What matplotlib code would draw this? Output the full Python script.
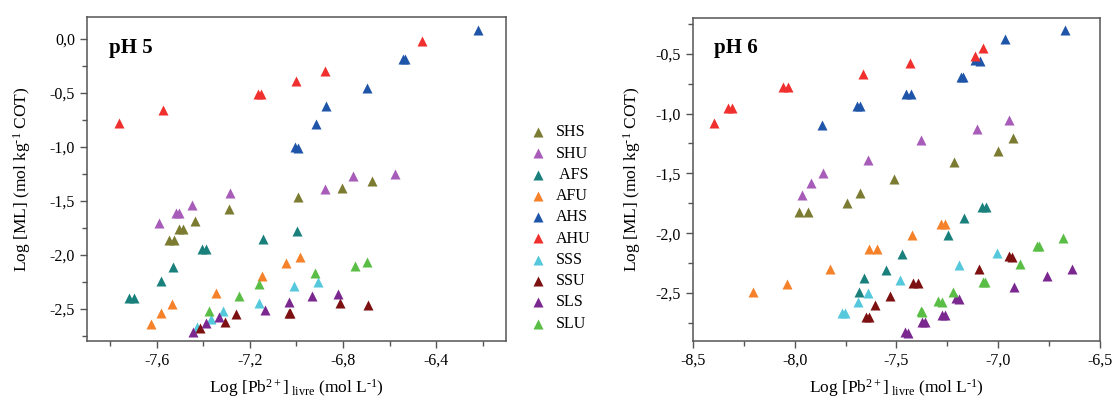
import matplotlib
matplotlib.use('Agg')
import matplotlib.pyplot as plt
from matplotlib.ticker import MultipleLocator, FuncFormatter

plt.rcParams['font.family'] = 'Liberation Serif'
plt.rcParams['mathtext.fontset'] = 'custom'
plt.rcParams['mathtext.rm'] = 'Liberation Serif'
plt.rcParams['mathtext.it'] = 'Liberation Serif:italic'
plt.rcParams['axes.unicode_minus'] = False

nomes = ['SHS', 'SHU', ' AFS', 'AFU', 'AHS', 'AHU', 'SSS', 'SSU', 'SLS', 'SLU']
cores = ['#7b7b32', '#a65cb8', '#1a807c', '#f5822a', '#1f55a8',
         '#f0302e', '#55c8dc', '#7d1010', '#7a2890', '#5abe46']

# pH 5 -- Log [Pb2+] livre (x) e Log [ML] (y)
shs5_x = [-6.674, -6.805, -6.994, -7.288, -7.437, -7.506, -7.487, -7.547, -7.527]
shs5_y = [-1.319, -1.386, -1.47, -1.581, -1.686, -1.766, -1.766, -1.865, -1.865]
shu5_x = [-6.578, -6.757, -6.878, -7.284, -7.451, -7.517, -7.503, -7.59]
shu5_y = [-1.254, -1.272, -1.393, -1.433, -1.538, -1.612, -1.612, -1.704]
afs5_x = [-6.998, -7.143, -7.405, -7.39, -7.53, -7.58, -7.718, -7.698]
afs5_y = [-1.778, -1.859, -1.951, -1.951, -2.118, -2.244, -2.399, -2.399]
afu5_x = [-6.985, -7.045, -7.149, -7.347, -7.536, -7.58, -7.626]
afu5_y = [-2.025, -2.075, -2.201, -2.359, -2.457, -2.541, -2.643]
ahs5_x = [-6.221, -6.544, -6.532, -6.697, -6.872, -6.918, -7.007, -6.992]
ahs5_y = [0.08, -0.189, -0.189, -0.46, -0.624, -0.791, -1.001, -1.01]
ahu5_x = [-7.764, -7.573, -7.167, -7.153, -7.004, -6.879, -6.462]
ahu5_y = [-0.779, -0.661, -0.513, -0.513, -0.396, -0.297, -0.025]
sss5_x = [-6.908, -7.01, -7.162, -7.316, -7.367, -7.428]
sss5_y = [-2.257, -2.291, -2.451, -2.522, -2.596, -2.673]
ssu5_x = [-6.693, -6.813, -7.031, -7.026, -7.262, -7.309, -7.414]
ssu5_y = [-2.47, -2.448, -2.538, -2.544, -2.553, -2.624, -2.68]
sls5_x = [-6.82, -6.935, -7.034, -7.137, -7.332, -7.388, -7.445]
sls5_y = [-2.365, -2.383, -2.442, -2.516, -2.575, -2.636, -2.719]
slu5_x = [-6.696, -6.75, -6.922, -7.16, -7.246, -7.374]
slu5_y = [-2.065, -2.109, -2.173, -2.275, -2.38, -2.525]

# pH 6
shs6_x = [-6.925, -7.0, -7.219, -7.511, -7.681, -7.742, -7.979, -7.936]
shs6_y = [-1.206, -1.314, -1.406, -1.55, -1.664, -1.747, -1.822, -1.822]
shu6_x = [-6.948, -7.106, -7.379, -7.641, -7.859, -7.922, -7.962]
shu6_y = [-1.05, -1.128, -1.225, -1.386, -1.5, -1.578, -1.683]
afs6_x = [-7.082, -7.059, -7.167, -7.247, -7.475, -7.549, -7.659, -7.685]
afs6_y = [-1.778, -1.778, -1.872, -2.011, -2.172, -2.306, -2.378, -2.494]
afu6_x = [-7.279, -7.261, -7.425, -7.637, -7.595, -7.827, -8.038, -8.204]
afu6_y = [-1.922, -1.922, -2.014, -2.128, -2.128, -2.3, -2.422, -2.494]
ahs6_x = [-6.67, -6.966, -7.114, -7.088, -7.184, -7.172, -7.451, -7.428, -7.693, -7.678, -7.866]
ahs6_y = [-0.3, -0.378, -0.556, -0.561, -0.694, -0.694, -0.839, -0.839, -0.933, -0.933, -1.094]
ahu6_x = [-8.395, -8.327, -8.31, -8.056, -8.031, -7.662, -7.433, -7.116, -7.075]
ahu6_y = [-1.078, -0.95, -0.95, -0.778, -0.778, -0.667, -0.578, -0.522, -0.453]
sss6_x = [-7.007, -7.193, -7.482, -7.641, -7.688, -7.768, -7.752]
sss6_y = [-2.167, -2.264, -2.394, -2.5, -2.578, -2.667, -2.667]
ssu6_x = [-6.945, -6.93, -7.095, -7.418, -7.392, -7.534, -7.603, -7.65, -7.634]
ssu6_y = [-2.194, -2.2, -2.3, -2.417, -2.417, -2.528, -2.597, -2.7, -2.7]
sls6_x = [-6.636, -6.76, -6.92, -7.209, -7.193, -7.278, -7.261, -7.373, -7.36, -7.458, -7.444]
sls6_y = [-2.3, -2.361, -2.45, -2.542, -2.55, -2.681, -2.686, -2.744, -2.744, -2.828, -2.833]
slu6_x = [-6.683, -6.807, -6.8, -6.894, -7.074, -7.066, -7.222, -7.296, -7.275, -7.379, -7.373]
slu6_y = [-2.039, -2.106, -2.11, -2.256, -2.406, -2.41, -2.494, -2.567, -2.578, -2.65, -2.656]

ph5 = [(shs5_x, shs5_y), (shu5_x, shu5_y), (afs5_x, afs5_y), (afu5_x, afu5_y), (ahs5_x, ahs5_y),
       (ahu5_x, ahu5_y), (sss5_x, sss5_y), (ssu5_x, ssu5_y), (sls5_x, sls5_y), (slu5_x, slu5_y)]
ph6 = [(shs6_x, shs6_y), (shu6_x, shu6_y), (afs6_x, afs6_y), (afu6_x, afu6_y), (ahs6_x, ahs6_y),
       (ahu6_x, ahu6_y), (sss6_x, sss6_y), (ssu6_x, ssu6_y), (sls6_x, sls6_y), (slu6_x, slu6_y)]

virgula = FuncFormatter(lambda v, p: f'{round(v, 1) + 0:.1f}'.replace('.', ','))

rotulo_x = r'Log [Pb$^{2+}$]$_{\ \mathrm{livre}}$ (mol L$^{\text{-1}}$)'
rotulo_y = r'Log [ML] (mol kg$^{\text{-1}}$ COT)'

fig = plt.figure(figsize=(11.14, 4.04), dpi=100)
ax1 = fig.add_axes([0.0781, 0.156, 0.3761, 0.802])
ax2 = fig.add_axes([0.622, 0.156, 0.3654, 0.800])

for ax, dados, titulo in [(ax1, ph5, 'pH 5'), (ax2, ph6, 'pH 6')]:
    for (x, y), nome, cor in zip(dados, nomes, cores):
        ax.scatter(x, y, marker='^', s=52, color=cor, linewidths=0, label=nome)
    ax.text(0.053, 0.89, titulo, transform=ax.transAxes, fontsize=15, fontweight='bold')
    ax.xaxis.set_major_formatter(virgula)
    ax.yaxis.set_major_formatter(virgula)
    ax.tick_params(which='major', direction='out', length=5, width=1, color='#555555',
                   labelsize=11.5, top=False, right=False)
    ax.tick_params(which='minor', direction='out', length=3.5, width=1, color='#555555')
    for sp in ax.spines.values():
        sp.set_color('#555555')
        sp.set_linewidth(1.1)
    ax.set_xlabel(rotulo_x, fontsize=12.5, labelpad=6)

ax1.set_xlim(-7.9, -6.1)
ax1.set_ylim(-2.8, 0.2)
ax1.xaxis.set_major_locator(MultipleLocator(0.4))
ax1.xaxis.set_minor_locator(MultipleLocator(0.2))
ax1.yaxis.set_major_locator(MultipleLocator(0.5))
ax1.yaxis.set_minor_locator(MultipleLocator(0.25))
ax1.set_ylabel(rotulo_y, fontsize=12.5, labelpad=12)

ax2.set_xlim(-8.5, -6.5)
ax2.set_ylim(-2.9, -0.2)
ax2.xaxis.set_major_locator(MultipleLocator(0.5))
ax2.xaxis.set_minor_locator(MultipleLocator(0.25))
ax2.yaxis.set_major_locator(MultipleLocator(0.5))
ax2.yaxis.set_minor_locator(MultipleLocator(0.25))
ax2.set_ylabel(rotulo_y, fontsize=12.5, labelpad=9)

handles, labels = ax1.get_legend_handles_labels()
fig.legend(handles, labels, loc='upper left', bbox_to_anchor=(0.466, 0.72), frameon=False,
           fontsize=11.5, labelspacing=0.33, handlelength=1.0, handletextpad=0.6,
           borderpad=0.2, scatterpoints=1)

fig.savefig('out.png', dpi=100)
